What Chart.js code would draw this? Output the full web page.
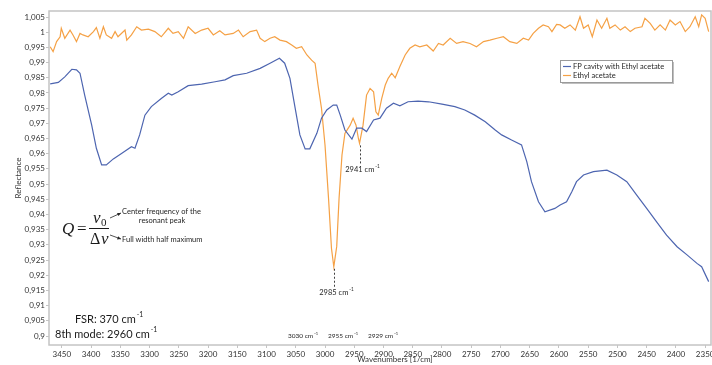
<!DOCTYPE html>
<html><head><meta charset="utf-8">
<script src="https://cdn.jsdelivr.net/npm/chart.js@4.4.1/dist/chart.umd.min.js"></script>
<style>html,body{margin:0;padding:0;background:#fff;}#wrap{width:712px;height:365px;}</style>
</head><body><div id="wrap"><canvas id="c" width="712" height="365"></canvas></div>
<script>
// ---- DATA ----
const fpLabel = 'FP cavity with Ethyl acetate';
const eaLabel = 'Ethyl acetate';
const fpWavenumber = [3470,3456,3445,3433,3425,3419,3411,3399,3391,3382,3374,3362,3348,3331,3325,3317,3308,3297,3280,3268,3262,3251,3234,3211,3188,3171,3157,3134,3111,3094,3078,3069,3060,3051,3043,3034,3026,3014,3006,2997,2986,2980,2974,2966,2954,2946,2937,2929,2917,2906,2895,2883,2872,2858,2841,2823,2800,2778,2761,2744,2726,2709,2698,2681,2664,2655,2647,2635,2624,2607,2598,2587,2578,2570,2558,2541,2518,2501,2484,2467,2450,2433,2416,2398,2381,2364,2356,2344];
const fpReflectance = [0.9830,0.9835,0.9853,0.9878,0.9876,0.9865,0.9793,0.9694,0.9618,0.9563,0.9563,0.9583,0.9601,0.9623,0.9618,0.9662,0.9727,0.9755,0.9782,0.9799,0.9793,0.9804,0.9824,0.9829,0.9837,0.9843,0.9857,0.9865,0.9881,0.9898,0.9914,0.9898,0.9848,0.9749,0.9662,0.9616,0.9616,0.9667,0.9717,0.9744,0.9760,0.9760,0.9727,0.9678,0.9648,0.9684,0.9684,0.9673,0.9711,0.9717,0.9750,0.9766,0.9758,0.9771,0.9773,0.9771,0.9763,0.9755,0.9744,0.9727,0.9705,0.9678,0.9662,0.9645,0.9629,0.9574,0.9508,0.9442,0.9409,0.9420,0.9431,0.9442,0.9475,0.9508,0.9530,0.9541,0.9546,0.9530,0.9508,0.9464,0.9420,0.9376,0.9332,0.9294,0.9267,0.9239,0.9228,0.9179];
const eaWavenumber = [3470,3465,3459,3453,3451,3445,3436,3431,3425,3419,3414,3405,3396,3391,3385,3379,3374,3365,3359,3354,3342,3339,3331,3322,3314,3302,3291,3280,3268,3260,3251,3242,3234,3222,3211,3200,3191,3180,3171,3157,3148,3140,3128,3117,3111,3103,3094,3086,3077,3066,3057,3049,3040,3031,3023,3017,3012,3006,3000,2994,2989,2985,2980,2976,2971,2966,2957,2952,2947,2943,2941,2935,2929,2923,2917,2913,2909,2903,2897,2892,2886,2880,2872,2863,2855,2846,2838,2826,2815,2806,2798,2786,2775,2764,2752,2741,2729,2718,2706,2695,2684,2672,2661,2652,2644,2635,2627,2618,2612,2604,2598,2590,2581,2572,2564,2558,2550,2543,2535,2527,2518,2513,2504,2495,2487,2478,2470,2458,2453,2444,2436,2427,2418,2410,2401,2393,2384,2376,2367,2361,2356,2350,2344];
const eaReflectance = [0.9952,0.9936,0.9969,0.9985,1.0013,0.9980,1.0007,0.9991,0.9969,0.9996,0.9991,0.9985,1.0002,1.0015,0.9980,1.0018,0.9991,0.9980,1.0002,0.9985,1.0007,0.9974,0.9991,1.0018,1.0007,1.0010,1.0002,0.9985,1.0013,0.9996,1.0002,0.9980,1.0018,0.9996,1.0007,1.0013,0.9991,1.0005,0.9991,0.9996,1.0007,0.9985,1.0002,1.0007,0.9980,0.9969,0.9980,0.9985,0.9974,0.9969,0.9958,0.9947,0.9952,0.9925,0.9908,0.9898,0.9826,0.9749,0.9628,0.9453,0.9289,0.9228,0.9295,0.9453,0.9596,0.9667,0.9694,0.9717,0.9694,0.9651,0.9634,0.9694,0.9793,0.9815,0.9804,0.9738,0.9727,0.9782,0.9826,0.9848,0.9865,0.9850,0.9887,0.9925,0.9947,0.9958,0.9952,0.9958,0.9938,0.9963,0.9958,0.9980,0.9963,0.9969,0.9963,0.9952,0.9969,0.9974,0.9980,0.9985,0.9969,0.9963,0.9980,0.9974,0.9996,1.0013,1.0024,1.0018,1.0002,1.0026,1.0024,1.0013,1.0024,1.0007,1.0051,1.0013,1.0024,0.9985,1.0040,1.0013,1.0046,1.0013,1.0024,1.0007,1.0018,1.0002,1.0013,1.0018,1.0046,1.0029,1.0007,1.0024,1.0007,1.0040,1.0024,1.0035,1.0002,1.0018,1.0051,1.0018,1.0057,1.0046,1.0002];
const xTickValues = [3450,3400,3350,3300,3250,3200,3150,3100,3050,3000,2950,2900,2850,2800,2750,2700,2650,2600,2550,2500,2450,2400,2350];
const yTickValues = [0.9,0.905,0.91,0.915,0.92,0.925,0.93,0.935,0.94,0.945,0.95,0.955,0.96,0.965,0.97,0.975,0.98,0.985,0.99,0.995,1,1.005];
const peakMarks = [{wn:2985, text:'2985 cm'}, {wn:2941, text:'2941 cm'}];
const modeLabels = ['3030 cm','2955 cm','2929 cm'];
const fsrText = 'FSR: 370 cm';
const modeText = '8th mode: 2960 cm';
const xTitle = 'Wavenumbers [1/cm]';
const yTitle = 'Reflectance';

const FP_COLOR = '#4d65b0';
const EA_COLOR = '#f5a145';
const FONT = 'Lato, "Open Sans", sans-serif';
const SERIF = '"Liberation Serif", "DejaVu Serif", serif';

function pts(xs, ys){ return xs.map((x,i)=>({x:x, y:ys[i]})); }
function fmt(v){ return String(Number(v.toFixed(3))).replace('.', ','); }

function textSup(ctx, x, y, base, sup, size, align){
  ctx.font = size + 'px ' + FONT;
  const wb = ctx.measureText(base).width;
  const ss = Math.round(size*0.62*10)/10;
  ctx.font = ss + 'px ' + FONT;
  const ws = ctx.measureText(sup).width;
  let sx = x;
  if (align === 'center') sx = x - (wb+ws+1)/2;
  ctx.textAlign = 'left'; ctx.textBaseline = 'middle';
  ctx.font = size + 'px ' + FONT;
  ctx.fillText(base, sx, y);
  ctx.font = ss + 'px ' + FONT;
  ctx.fillText(sup, sx + wb + 1, y - size*0.38);
}

function arrow(ctx, x1, y1, x2, y2){
  ctx.beginPath(); ctx.moveTo(x1,y1); ctx.lineTo(x2,y2); ctx.stroke();
  const ang = Math.atan2(y2-y1, x2-x1), L = 4;
  ctx.beginPath();
  ctx.moveTo(x2,y2);
  ctx.lineTo(x2 - L*Math.cos(ang-0.45), y2 - L*Math.sin(ang-0.45));
  ctx.lineTo(x2 - L*Math.cos(ang+0.45), y2 - L*Math.sin(ang+0.45));
  ctx.closePath(); ctx.fill();
}

const deco = {
  id: 'deco',
  beforeDraw(chart){
    const c = chart.ctx; c.save(); c.fillStyle = '#fff'; c.fillRect(0,0,chart.width,chart.height); c.restore();
  },
  afterDraw(chart){
    const ctx = chart.ctx, a = chart.chartArea, xs = chart.scales.x, ys = chart.scales.y;
    ctx.save();
    ctx.strokeStyle = '#c4c4c4'; ctx.lineWidth = 1.5;
    ctx.strokeRect(a.left, a.top, a.right - a.left, a.bottom - a.top);
    ctx.fillStyle = '#333';
    ctx.font = '8px ' + FONT; ctx.textAlign = 'center'; ctx.textBaseline = 'middle';
    ctx.fillText(xTitle, 395, 359);
    ctx.save(); ctx.translate(18, (a.top + a.bottom)/2); ctx.rotate(-Math.PI/2);
    ctx.fillText(yTitle, 0, 0); ctx.restore();
    const lx = 560, ly = 60, lw = 112, lh = 22;
    ctx.fillStyle = 'rgba(0,0,0,0.25)'; ctx.fillRect(lx+2, ly+2, lw, lh);
    ctx.fillStyle = '#fff'; ctx.fillRect(lx, ly, lw, lh);
    ctx.strokeStyle = '#9a9a9a'; ctx.lineWidth = 1; ctx.strokeRect(lx+0.5, ly+0.5, lw, lh);
    chart.data.datasets.forEach((d,i)=>{
      const yy = ly + 6.5 + i*9;
      ctx.strokeStyle = d.borderColor; ctx.lineWidth = 1.2;
      ctx.beginPath(); ctx.moveTo(lx+3, yy); ctx.lineTo(lx+11, yy); ctx.stroke();
      ctx.fillStyle = '#262626'; ctx.font = '7.5px ' + FONT; ctx.textAlign = 'left'; ctx.textBaseline = 'middle';
      ctx.fillText(d.label, lx+13, yy);
    });
    ctx.strokeStyle = '#404040'; ctx.fillStyle = '#262626'; ctx.lineWidth = 1;
    peakMarks.forEach(p=>{
      const idx = eaWavenumber.indexOf(p.wn);
      const px = Math.round(xs.getPixelForValue(p.wn)) + 0.5;
      const py = ys.getPixelForValue(eaReflectance[idx]);
      ctx.setLineDash([2,2]);
      ctx.beginPath(); ctx.moveTo(px, py+2); ctx.lineTo(px, py+20); ctx.stroke();
      ctx.setLineDash([]);
      textSup(ctx, px+2, py+26, p.text, '-1', 7.5, 'center');
    });
    ctx.fillStyle = '#262626';
    const mx = [288, 328, 368];
    modeLabels.forEach((t,i)=> textSup(ctx, mx[i], 336, t, '-1', 6.5, 'left'));
    ctx.fillStyle = '#1a1a1a';
    textSup(ctx, 75, 319, fsrText, '-1', 11, 'left');
    textSup(ctx, 55, 334, modeText, '-1', 11, 'left');
    // formula
    ctx.fillStyle = '#1a1a1a'; ctx.textBaseline = 'alphabetic'; ctx.textAlign = 'left';
    ctx.font = 'italic 17px ' + SERIF;
    ctx.fillText('Q', 62, 234);
    ctx.font = '17px ' + SERIF;
    ctx.fillText('=', 77, 234);
    ctx.font = 'italic 17px ' + SERIF;
    ctx.fillText('v', 93, 223);
    ctx.font = '11px ' + SERIF;
    ctx.fillText('0', 101, 226);
    ctx.font = '16px ' + SERIF;
    ctx.fillText('\u0394', 90, 244);
    ctx.font = 'italic 17px ' + SERIF;
    ctx.fillText('v', 101, 244);
    ctx.fillRect(89, 228, 20, 1);
    ctx.strokeStyle = '#262626'; ctx.fillStyle = '#262626'; ctx.lineWidth = 0.8;
    arrow(ctx, 110, 218, 121, 213);
    arrow(ctx, 110, 235, 121, 239);
    ctx.font = '7.5px ' + FONT; ctx.textBaseline = 'middle';
    ctx.textAlign = 'left';
    ctx.fillText('Center frequency of the', 122, 212);
    ctx.textAlign = 'center';
    ctx.fillText('resonant peak', 162, 221);
    ctx.textAlign = 'left';
    ctx.fillText('Full width half maximum', 122, 240);
    ctx.restore();
  }
};

new Chart(document.getElementById('c'), {
  type: 'line',
  data: {
    datasets: [
      {label: fpLabel, data: pts(fpWavenumber, fpReflectance), borderColor: FP_COLOR, borderWidth: 1.2, pointRadius: 0, tension: 0, fill: false},
      {label: eaLabel, data: pts(eaWavenumber, eaReflectance), borderColor: EA_COLOR, borderWidth: 1.2, pointRadius: 0, tension: 0, fill: false}
    ]
  },
  options: {
    responsive: false, animation: false, devicePixelRatio: 1,
    layout: {padding: {top: 11, right: 1, left: 0, bottom: 0}},
    plugins: {legend: {display: false}, tooltip: {enabled: false}},
    scales: {
      x: {
        type: 'linear', reverse: true, min: 2340, max: 3472,
        afterBuildTicks: s => { s.ticks = xTickValues.map(v => ({value: v})); },
        afterFit: s => { s.height = 20; s.paddingLeft = 0; s.paddingRight = 0; },
        grid: {drawOnChartArea: false, drawTicks: true, tickLength: 3, color: '#c4c4c4'},
        border: {display: false},
        ticks: {color: '#333', font: {family: FONT, size: 8}, padding: 2, maxRotation: 0, autoSkip: false, callback: v => String(v)}
      },
      y: {
        type: 'linear', min: 0.89704, max: 1.00698,
        afterBuildTicks: s => { s.ticks = yTickValues.map(v => ({value: v})); },
        afterFit: s => { s.width = 49; s.paddingTop = 0; s.paddingBottom = 0; },
        grid: {drawOnChartArea: false, drawTicks: true, tickLength: 3, color: '#c4c4c4'},
        border: {display: false},
        ticks: {color: '#333', font: {family: FONT, size: 8}, padding: 1, autoSkip: false, callback: v => fmt(v)}
      }
    }
  },
  plugins: [deco]
});
</script>
</body></html>
